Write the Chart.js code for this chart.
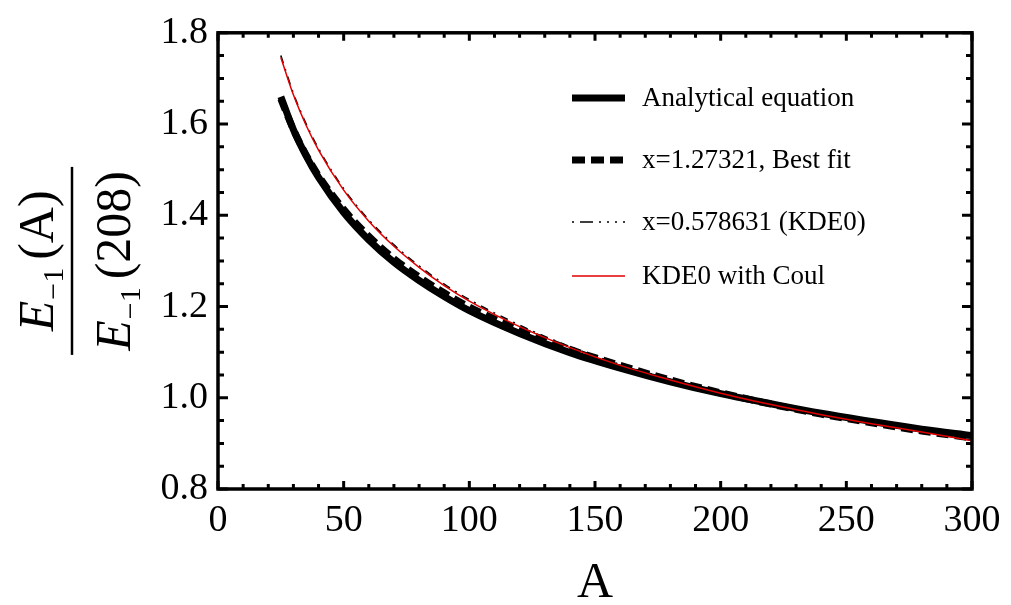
<!DOCTYPE html>
<html>
<head>
<meta charset="utf-8">
<script src="https://cdn.jsdelivr.net/npm/chart.js@4"></script>
<style>
  html,body{margin:0;padding:0;background:#fff;}
  #c{display:block;}
</style>
</head>
<body>
<canvas id="c" width="1011" height="605"></canvas>
<script>
// values, E_-1(A)/E_-1(208) vs A
const massA=[25,30,35,40,50,60,70,80,90,100,120,140,160,180,200,220,240,260,280,300];
const analytical=[1.660,1.588,1.531,1.483,1.406,1.346,1.297,1.257,1.222,1.191,1.141,1.099,1.065,1.035,1.009,0.987,0.966,0.948,0.931,0.917];
const bestFit=[1.655,1.588,1.533,1.487,1.413,1.354,1.305,1.265,1.230,1.199,1.149,1.106,1.071,1.039,1.011,0.986,0.964,0.945,0.927,0.912];
const kde0=[1.750,1.667,1.601,1.546,1.458,1.390,1.335,1.289,1.249,1.215,1.159,1.112,1.073,1.040,1.011,0.986,0.964,0.944,0.926,0.907];
const kde0Coul=[1.746,1.664,1.598,1.543,1.455,1.387,1.332,1.286,1.246,1.212,1.156,1.110,1.071,1.039,1.010,0.985,0.963,0.943,0.925,0.906];
const seriesNames=['Analytical equation','x=1.27321, Best fit','x=0.578631 (KDE0)','KDE0 with Coul'];
const xTicks=[0,50,100,150,200,250,300];
const yTicks=[0.8,1.0,1.2,1.4,1.6,1.8];

const SERIF="'Liberation Serif','Times New Roman',serif";
Chart.defaults.font.family=SERIF;
Chart.defaults.color='#000';

const pts=ys=>massA.map((a,i)=>({x:a,y:ys[i]}));

// frame with inward major/minor ticks on all four sides
const frame={id:'frame',afterDatasetsDraw(c){
  const {ctx,chartArea:a,scales:{x,y}}=c;
  ctx.save();
  ctx.strokeStyle='#000'; ctx.lineCap='butt';
  ctx.lineWidth=3;
  for(let v=0;v<=300;v+=10){
    const px=x.getPixelForValue(v), L=v%50===0?8:5;
    ctx.beginPath();
    ctx.moveTo(px,a.bottom); ctx.lineTo(px,a.bottom-L);
    ctx.moveTo(px,a.top); ctx.lineTo(px,a.top+L);
    ctx.stroke();
  }
  for(let k=0;k<=20;k++){
    const v=0.8+k*0.05, py=y.getPixelForValue(v), L=k%4===0?10:6;
    ctx.beginPath();
    ctx.moveTo(a.left,py); ctx.lineTo(a.left+L,py);
    ctx.moveTo(a.right,py); ctx.lineTo(a.right-L,py);
    ctx.stroke();
  }
  ctx.lineWidth=3.5;
  ctx.strokeRect(a.left,a.top,a.right-a.left,a.bottom-a.top);
  ctx.restore();
}};

// legend inside plot + axis titles
const extras={id:'extras',afterDraw(c){
  const {ctx,chartArea:a}=c;
  ctx.save();
  const rows=[98,160,222,276];
  c.data.datasets.forEach((d,i)=>{
    const yy=rows[i];
    ctx.strokeStyle=d.borderColor; ctx.lineWidth=d.borderWidth;
    ctx.setLineDash(d.legendDash||d.borderDash||[]);
    ctx.beginPath(); ctx.moveTo(572,yy); ctx.lineTo(625,yy); ctx.stroke();
    ctx.setLineDash([]);
    ctx.fillStyle='#000'; ctx.font='27px '+SERIF;
    ctx.textAlign='left'; ctx.textBaseline='middle';
    ctx.fillText(seriesNames[i],642,yy+1);
  });

  // x title
  ctx.fillStyle='#000'; ctx.strokeStyle='#000';
  ctx.font='50px '+SERIF; ctx.textAlign='center'; ctx.textBaseline='alphabetic';
  ctx.fillText('A',(a.left+a.right)/2,597);

  // y title: E_-1(A) / E_-1(208), rotated
  ctx.translate(72,(a.top+a.bottom)/2);
  ctx.rotate(-Math.PI/2);
  const big='50px '+SERIF, ital='italic 50px '+SERIF, sub='30px '+SERIF;
  const part=(tail,base)=>{
    ctx.font=ital; const wE=ctx.measureText('E').width;
    ctx.font=sub; const wS=ctx.measureText('\u22121').width;
    ctx.font=big; const wT=ctx.measureText(tail).width;
    const gap=8, w=wE+1+wS+gap+wT;
    let x0=-w/2;
    ctx.textAlign='left';
    ctx.font=ital; ctx.fillText('E',x0,base); x0+=wE+1;
    ctx.font=sub; ctx.fillText('\u22121',x0,base+10); x0+=wS+gap;
    ctx.font=big; ctx.fillText(tail,x0,base);
  };
  part('(A)',-19);
  part('(208)',58);
  ctx.lineWidth=2.5;
  ctx.beginPath(); ctx.moveTo(-94,0); ctx.lineTo(94,0); ctx.stroke();
  ctx.restore();
}};

new Chart(document.getElementById('c'),{
  type:'scatter',
  data:{datasets:[
    {data:pts(analytical),borderColor:'#000',borderWidth:7,order:3},
    {data:pts(bestFit),borderColor:'#000',borderWidth:7,borderDash:[12,6],legendDash:[13,6],order:2},
    {data:pts(kde0),borderColor:'#000',borderWidth:1.6,borderDash:[8,6,2,6],legendDash:[2,6,13,6,2,6,2,6],order:1},
    {data:pts(kde0Coul),borderColor:'#e00000',borderWidth:1.5,order:0}
  ].map(d=>Object.assign({showLine:true,pointRadius:0,fill:false,cubicInterpolationMode:'monotone'},d))},
  options:{
    responsive:false,animation:false,devicePixelRatio:1,
    layout:{padding:{top:23,right:39,left:0,bottom:0}},
    plugins:{legend:{display:false},tooltip:{enabled:false}},
    scales:{
      x:{type:'linear',min:0,max:300,
        afterBuildTicks:s=>{s.ticks=xTicks.map(v=>({value:v}));},
        afterFit:s=>{s.height=605-489;},
        grid:{display:false,drawTicks:false},border:{display:false},
        ticks:{font:{size:38,family:SERIF},color:'#000',padding:9,maxRotation:0}},
      y:{type:'linear',min:0.8,max:1.8,
        afterBuildTicks:s=>{s.ticks=yTicks.map(v=>({value:v}));},
        afterFit:s=>{s.width=218;},
        grid:{display:false,drawTicks:false},border:{display:false},
        ticks:{font:{size:38,family:SERIF},color:'#000',padding:10,callback:v=>v.toFixed(1)}}
    }
  },
  plugins:[frame,extras]
});
</script>
</body>
</html>
